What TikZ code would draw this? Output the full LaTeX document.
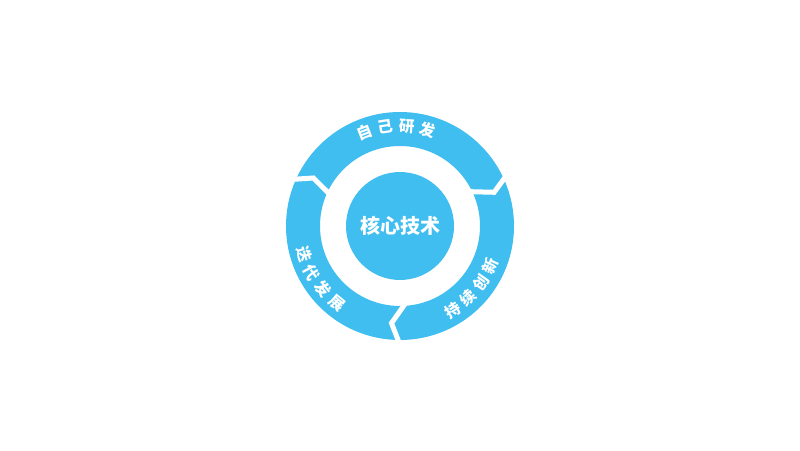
\documentclass[tikz,border=0pt]{standalone}
\usepackage{fontspec}
\newfontfamily\cjk{Noto Sans CJK SC}
\definecolor{ringblue}{HTML}{41BEF0}
\tikzset{
  ringtxt/.style={text=white, inner sep=0pt, font=\cjk\bfseries\fontsize{15.5pt}{15.5pt}\selectfont},
  coretxt/.style={text=white, inner sep=0pt, font=\cjk\bfseries\fontsize{20pt}{20pt}\selectfont},
  gapline/.style={white, line width=5pt, line join=miter, line cap=butt}
}
\begin{document}
\begin{tikzpicture}[x=1pt,y=1pt]
\useasboundingbox (0,0) rectangle (800,450);
\coordinate (c) at (400,224);
% ring
\fill[ringblue, even odd rule] (c) circle[radius=114pt] (c) circle[radius=80pt];
% chevron gaps
\draw[gapline] ([shift={(157:119pt)}]c) -- ([shift={(151:99pt)}]c) -- ([shift={(156:76pt)}]c);
\draw[gapline] ([shift={(25.7:119pt)}]c) -- ([shift={(19.7:100pt)}]c) -- ([shift={(26.9:76pt)}]c);
\draw[gapline] ([shift={(-90:119pt)}]c) -- ([shift={(-95:97.5pt)}]c) -- ([shift={(-85:76pt)}]c);
% core
\node[circle, fill=ringblue, minimum size=108pt, inner sep=0pt] (core) at (c) {};
\node[coretxt] (coreT) at (c) {核心技术};
% top text
\foreach \ch/\a [count=\i] in {自/111,己/98.6,研/86.2,发/73.8}{
  \node[ringtxt, rotate=\a-90] (tt\i) at ([shift={(\a:100pt)}]c) {\ch};
}
% right text
\foreach \ch/\a [count=\i] in {持/-58,续/-46.6,创/-35.2,新/-23.8}{
  \node[ringtxt, rotate=\a+90] (rt\i) at ([shift={(\a:99pt)}]c) {\ch};
}
% left text
\foreach \ch/\a [count=\i] in {迭/196.4,代/207.8,发/219.2,展/230.6}{
  \node[ringtxt, rotate=\a+90] (lt\i) at ([shift={(\a:100pt)}]c) {\ch};
}
\end{tikzpicture}
\end{document}
